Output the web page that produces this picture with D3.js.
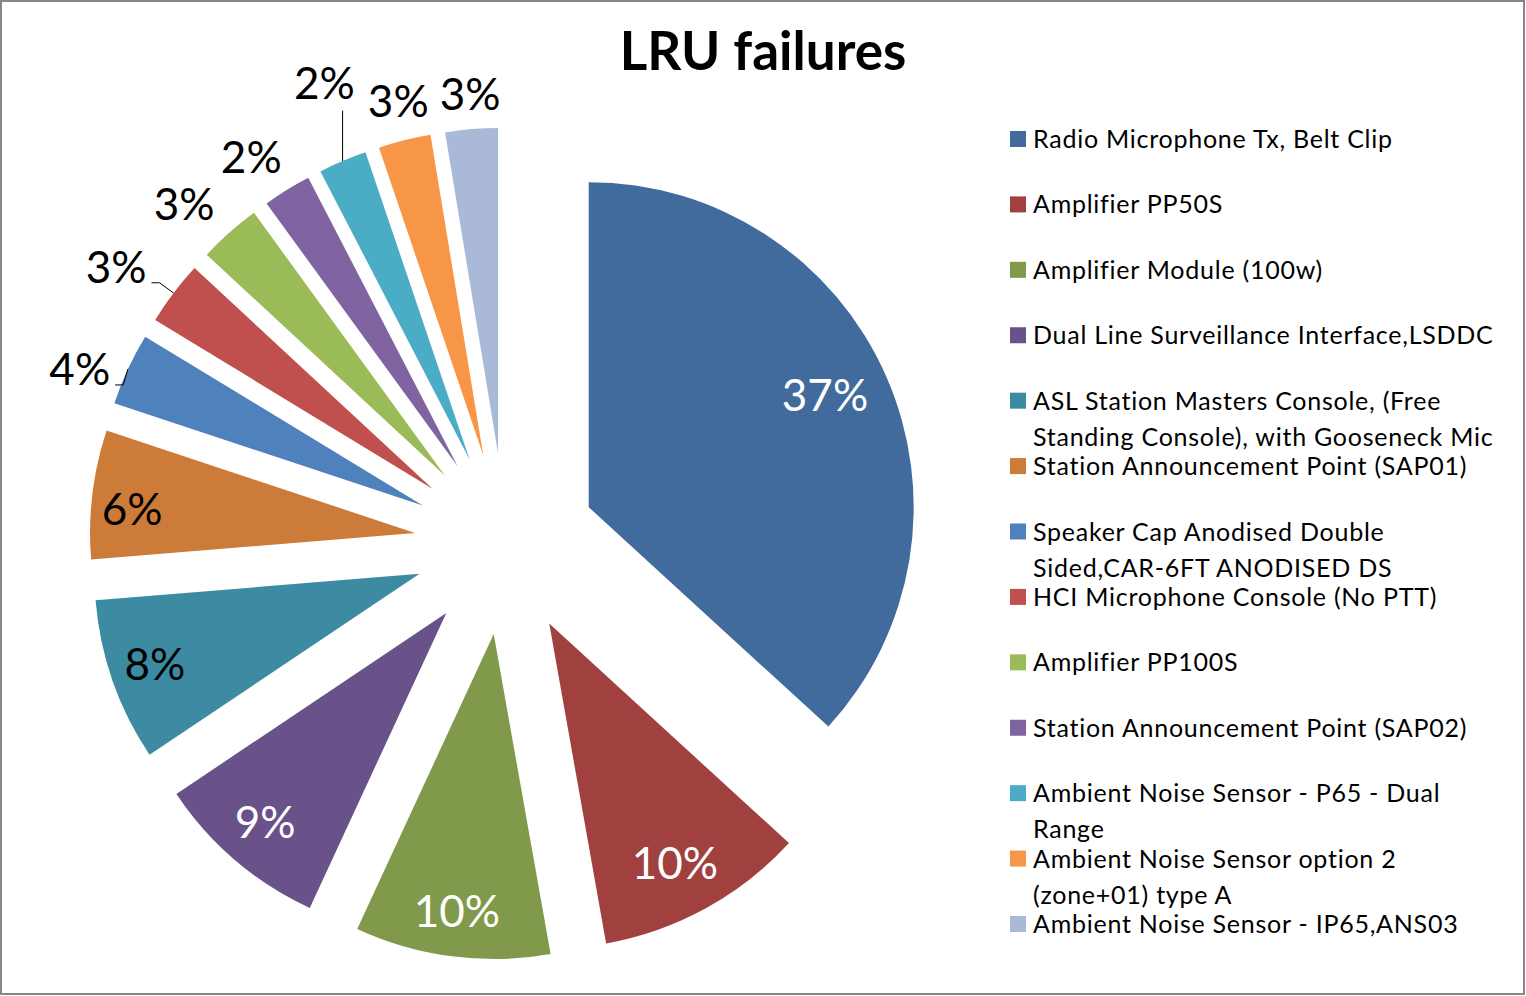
<!DOCTYPE html>
<html>
<head>
<meta charset="utf-8">
<script src="https://cdn.jsdelivr.net/npm/d3@7"></script>
<style>
    body { margin: 0; background: #fff; }
    text { font-family: Lato, "Open Sans", sans-serif; }
</style>
</head>
<body>
<svg id="chart" width="1526" height="996"></svg>
<script>
// LRU names, in pie order (clockwise from 12 o'clock)
let lruNames = [
    "Radio Microphone Tx, Belt Clip",
    "Amplifier PP50S",
    "Amplifier Module (100w)",
    "Dual Line Surveillance Interface,LSDDC",
    "ASL Station Masters Console, (Free Standing Console), with Gooseneck Mic",
    "Station Announcement Point (SAP01)",
    "Speaker Cap Anodised Double Sided,CAR-6FT ANODISED DS",
    "HCI Microphone Console (No PTT)",
    "Amplifier PP100S",
    "Station Announcement Point (SAP02)",
    "Ambient Noise Sensor - P65 - Dual Range",
    "Ambient Noise Sensor option 2 (zone+01) type A",
    "Ambient Noise Sensor - IP65,ANS03"
]

// share of failures
let failureShare = [36.8, 10.4, 9.7, 8.7, 8.1, 6.4, 3.6, 3.2, 3.1, 2.4, 2.4, 2.6, 2.6]

let sliceColors = ["#416B9C", "#A0413F", "#80994A", "#69518A", "#3D8BA2", "#CC7B38",
    "#4F81BD", "#C0504D", "#9BBB59", "#8064A2", "#4BACC6", "#F79646", "#AAB9D7"]

// label layout: distance (fraction of radius) and angle nudge (deg) from slice middle
let labelRadius = [0.805, 0.832, 0.859, 0.851, 0.86, 0.874, 1.136, 1.19, 1.159, 1.145, 1.244, 1.122, 1.108]
let labelNudge = [-1.65, 1.1, 0.2, 0.4, 0.45, -2.0, -3.15, -2.05, -2.25, -2.0, 1.95, 0.55, 0.24]
let whiteLabel = [true, true, true, true, false, false, false, false, false, false, false, false, false]
let leaderLines = [6, 7, 10]

let width = 1526, height = 996
let cx = 505.4, cy = 543.8
let radius = 325, explode = 91

let svg = d3.select("#chart")

// outer chart border
svg.append("rect")
    .attr("x", 1).attr("y", 1)
    .attr("width", width - 3).attr("height", height - 3)
    .attr("fill", "white")
    .attr("stroke", "#878787")
    .attr("stroke-width", 2)

svg.append("text")
    .attr("x", 763)
    .attr("y", 70)
    .attr("text-anchor", "middle")
    .style("font-size", "53px")
    .style("font-weight", "bold")
    .text("LRU failures")

let pie = d3.pie().sort(null).value(d => d)
let arcs = pie(failureShare)
let total = d3.sum(failureShare)

let arc = d3.arc().innerRadius(0).outerRadius(radius)

// unit vector at angle (radians, 0 = 12 o'clock, clockwise)
function unit(a) {
    return [Math.sin(a), -Math.cos(a)]
}
function mid(d) {
    return (d.startAngle + d.endAngle) / 2
}

let g = svg.append("g").attr("transform", `translate(${cx},${cy})`)

let slices = g.selectAll(".slice")
    .data(arcs)
    .join("g")
    .attr("class", "slice")
    .attr("transform", d => {
        let [ux, uy] = unit(mid(d))
        return `translate(${ux * explode},${uy * explode})`
    })

slices.append("path")
    .attr("d", arc)
    .attr("fill", (d, i) => sliceColors[i])

let fmt = d3.format(".0%")
let labelSize = 44

function labelPos(d, i) {
    let [ux, uy] = unit(mid(d) + labelNudge[i] * Math.PI / 180)
    return [ux * radius * labelRadius[i], uy * radius * labelRadius[i]]
}

slices.append("text")
    .attr("class", "pct")
    .attr("x", (d, i) => labelPos(d, i)[0])
    .attr("y", (d, i) => labelPos(d, i)[1])
    .attr("dy", "0.36em")
    .attr("text-anchor", "middle")
    .style("font-size", labelSize + "px")
    .attr("fill", (d, i) => whiteLabel[i] ? "white" : "black")
    .text(d => fmt(d.value / total))

// leader lines for the labels pushed away from their slice
slices.filter((d, i) => leaderLines.includes(i))
    .each(function (d) {
        let sel = d3.select(this)
        let t = sel.select("text")
        let b = t.node().getBBox()
        let [ux, uy] = unit(mid(d))
        let px = ux * radius, py = uy * radius
        let baseY = +t.attr("y") + labelSize * 0.36
        let pts
        if (px >= b.x && px <= b.x + b.width) {
            pts = [[px, py], [px, baseY + 12]]
        } else {
            let qx = b.x + b.width + 5
            pts = [[px, py], [qx + 8, baseY], [qx, baseY]]
        }
        sel.append("path")
            .attr("d", d3.line()(pts))
            .attr("fill", "none")
            .attr("stroke", "black")
            .attr("stroke-width", 1)
    })

// legend
let legendY = d3.scalePoint()
    .domain(lruNames)
    .range([139, 924])

let legend = svg.append("g")
    .selectAll(".legend-item")
    .data(lruNames)
    .join("g")
    .attr("class", "legend-item")
    .attr("transform", d => `translate(1010,${legendY(d)})`)

legend.append("rect")
    .attr("x", 0).attr("y", -8)
    .attr("width", 16).attr("height", 16)
    .attr("fill", (d, i) => sliceColors[i])

let maxLegendWidth = 474
legend.append("text")
    .attr("x", 23)
    .attr("y", 0)
    .style("font-size", "25px")
    .style("letter-spacing", "0.75px")
    .attr("fill", "black")
    .each(function (d) {
        let text = d3.select(this)
        let words = d.split(" ")
        let line = []
        let tspan = text.append("tspan").attr("x", 23).attr("dy", "0.36em")
        for (let w of words) {
            line.push(w)
            tspan.text(line.join(" "))
            if (tspan.node().getComputedTextLength() > maxLegendWidth && line.length > 1) {
                line.pop()
                tspan.text(line.join(" "))
                line = [w]
                tspan = text.append("tspan").attr("x", 23).attr("dy", 36).text(w)
            }
        }
    })
</script>
</body>
</html>
